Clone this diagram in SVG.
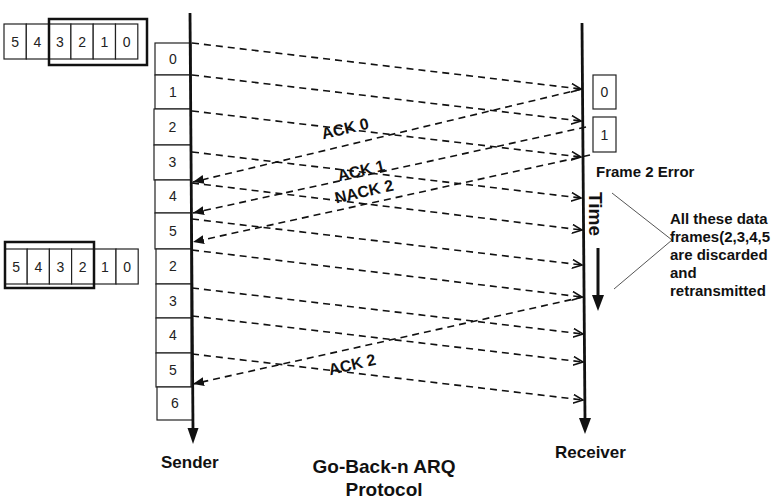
<svg xmlns="http://www.w3.org/2000/svg" width="774" height="499" viewBox="0 0 774 499">
<style>
.box{fill:#fff;stroke:#222;stroke-width:1.2}
.win{fill:none;stroke:#111;stroke-width:2.5}
.num{font-family:"Liberation Sans",Arial,sans-serif;font-size:14px;fill:#222;text-anchor:middle}
.lbl{font-family:"Liberation Sans",Arial,sans-serif;font-weight:bold;fill:#111}
.data{fill:none;stroke:#111;stroke-width:1.6;stroke-dasharray:7 5;marker-end:url(#open)}
.ack{fill:none;stroke:#111;stroke-width:1.6;stroke-dasharray:7 5;marker-end:url(#solid)}
.axis{stroke:#111;stroke-width:2.8;fill:none}
.thin{stroke:#555;stroke-width:1;fill:none}
</style>
<defs>
<marker id="open" markerUnits="userSpaceOnUse" markerWidth="12" markerHeight="12" refX="10" refY="5" orient="auto">
<path d="M0,0.5 L10,5 L0,9.5" fill="none" stroke="#111" stroke-width="1.6"/>
</marker>
<marker id="solid" markerUnits="userSpaceOnUse" markerWidth="12" markerHeight="12" refX="11" refY="4.5" orient="auto">
<path d="M0,0 L11,4.5 L0,9 z" fill="#111"/>
</marker>
</defs>
<rect width="774" height="499" fill="#fff"/>

<g id="window-top">
<rect class="box" x="4" y="24" width="22.3" height="35"/>
<rect class="box" x="26.3" y="24" width="22.3" height="35"/>
<rect class="box" x="48.6" y="24" width="22.3" height="35"/>
<rect class="box" x="70.9" y="24" width="22.3" height="35"/>
<rect class="box" x="93.2" y="24" width="22.3" height="35"/>
<rect class="box" x="115.5" y="24" width="22.3" height="35"/>
<text class="num" x="15.2" y="47">5</text>
<text class="num" x="37.5" y="47">4</text>
<text class="num" x="59.8" y="47">3</text>
<text class="num" x="82.1" y="47">2</text>
<text class="num" x="104.4" y="47">1</text>
<text class="num" x="126.7" y="47">0</text>
<rect class="win" x="49" y="19" width="98" height="46"/>
</g>

<g id="window-bottom">
<rect class="box" x="5" y="249" width="22.2" height="35"/>
<rect class="box" x="27.2" y="249" width="22.2" height="35"/>
<rect class="box" x="49.4" y="249" width="22.2" height="35"/>
<rect class="box" x="71.6" y="249" width="22.2" height="35"/>
<rect class="box" x="93.8" y="249" width="22.2" height="35"/>
<rect class="box" x="116" y="249" width="22.2" height="35"/>
<text class="num" x="16.1" y="272">5</text>
<text class="num" x="38.3" y="272">4</text>
<text class="num" x="60.5" y="272">3</text>
<text class="num" x="82.7" y="272">2</text>
<text class="num" x="104.9" y="272">1</text>
<text class="num" x="127.1" y="272">0</text>
<rect class="win" x="5" y="242" width="89" height="46"/>
</g>

<g id="sender-frames">
<rect class="box" x="155" y="43" width="36" height="32"/><text class="num" x="173" y="64">0</text>
<rect class="box" x="155" y="75" width="36" height="34"/><text class="num" x="173" y="97">1</text>
<rect class="box" x="154" y="109" width="37" height="36"/><text class="num" x="172.5" y="132">2</text>
<rect class="box" x="154" y="145" width="37" height="35"/><text class="num" x="172.5" y="167">3</text>
<rect class="box" x="155" y="180" width="36" height="33"/><text class="num" x="173" y="201">4</text>
<rect class="box" x="155" y="213" width="36" height="36"/><text class="num" x="173" y="236">5</text>
<rect class="box" x="156" y="249" width="35" height="35"/><text class="num" x="173" y="271">2</text>
<rect class="box" x="156" y="284" width="35" height="34"/><text class="num" x="173" y="306">3</text>
<rect class="box" x="156" y="318" width="35" height="35"/><text class="num" x="173" y="340">4</text>
<rect class="box" x="156" y="353" width="35" height="34"/><text class="num" x="173" y="375">5</text>
<rect class="box" x="157" y="387" width="36" height="33"/><text class="num" x="175" y="408">6</text>
</g>

<g id="sender">
<line class="axis" x1="190" y1="13" x2="193" y2="430"/>
<path d="M187.5,428 L198.5,428 L193,444 z" fill="#111"/>
<text class="lbl" x="161" y="468" font-size="17">Sender</text>
</g>

<g id="receiver">
<line class="axis" x1="582" y1="23" x2="585" y2="420"/>
<path d="M579,418 L591,418 L585,434 z" fill="#111"/>
<text class="lbl" x="555" y="458" font-size="17">Receiver</text>
</g>

<g id="receiver-frames">
<rect class="box" x="593" y="75" width="23" height="34"/><text class="num" x="604.5" y="97">0</text>
<rect class="box" x="593" y="117" width="23" height="35"/><text class="num" x="604.5" y="140">1</text>
</g>

<g id="connectors">
<line class="data" x1="192" y1="43" x2="581" y2="89"/>
<line class="data" x1="192" y1="75" x2="581" y2="121"/>
<line class="data" x1="192" y1="111" x2="581" y2="157"/>
<line class="data" x1="192" y1="152" x2="581" y2="198"/>
<line class="data" x1="192" y1="183" x2="582" y2="230"/>
<line class="data" x1="192" y1="219" x2="582" y2="265"/>
<line class="data" x1="192" y1="250" x2="582" y2="297"/>
<line class="data" x1="192" y1="288" x2="583" y2="334"/>
<line class="data" x1="192" y1="316" x2="583" y2="362"/>
<line class="data" x1="192" y1="354" x2="583" y2="400"/>
<line class="ack" x1="582" y1="89" x2="193" y2="182"/>
<line class="ack" x1="586" y1="127" x2="193" y2="213"/>
<line class="ack" x1="590" y1="155" x2="193" y2="242"/>
<line class="ack" x1="583" y1="297" x2="193" y2="384"/>
</g>

<g id="ack-labels">
<g transform="translate(345,128) rotate(-13)"><text class="lbl" x="0" y="6" font-size="16" text-anchor="middle">ACK 0</text></g>
<g transform="translate(361,170) rotate(-13)"><text class="lbl" x="0" y="6" font-size="16" text-anchor="middle">ACK 1</text></g>
<g transform="translate(364,191) rotate(-13)"><text class="lbl" x="0" y="6" font-size="16" text-anchor="middle">NACK 2</text></g>
<g transform="translate(352,364) rotate(-13)"><text class="lbl" x="0" y="6" font-size="16" text-anchor="middle">ACK 2</text></g>
</g>

<g id="error-note">
<text class="lbl" x="596" y="177" font-size="15">Frame 2 Error</text>
</g>

<g id="time-axis">
<g transform="translate(589,192) rotate(90)"><text class="lbl" x="0" y="0" font-size="19">Time</text></g>
<line x1="598" y1="248" x2="598" y2="297" stroke="#111" stroke-width="3"/>
<path d="M592,295 L604,295 L598,311 z" fill="#111"/>
</g>

<g id="discard-note">
<line class="thin" x1="612" y1="193" x2="672" y2="240"/>
<line class="thin" x1="614" y1="289" x2="672" y2="240"/>
<text class="lbl" font-size="15">
<tspan x="670" y="223.5">All these data</tspan>
<tspan x="670" y="241.5">frames(2,3,4,5</tspan>
<tspan x="670" y="259.5">are discarded</tspan>
<tspan x="670" y="277.5">and</tspan>
<tspan x="670" y="295.5">retransmitted</tspan>
</text>
</g>

<g id="title">
<text class="lbl" x="384" y="473" font-size="19" text-anchor="middle">Go-Back-n ARQ</text>
<text class="lbl" x="384" y="496" font-size="19" text-anchor="middle">Protocol</text>
</g>
</svg>
